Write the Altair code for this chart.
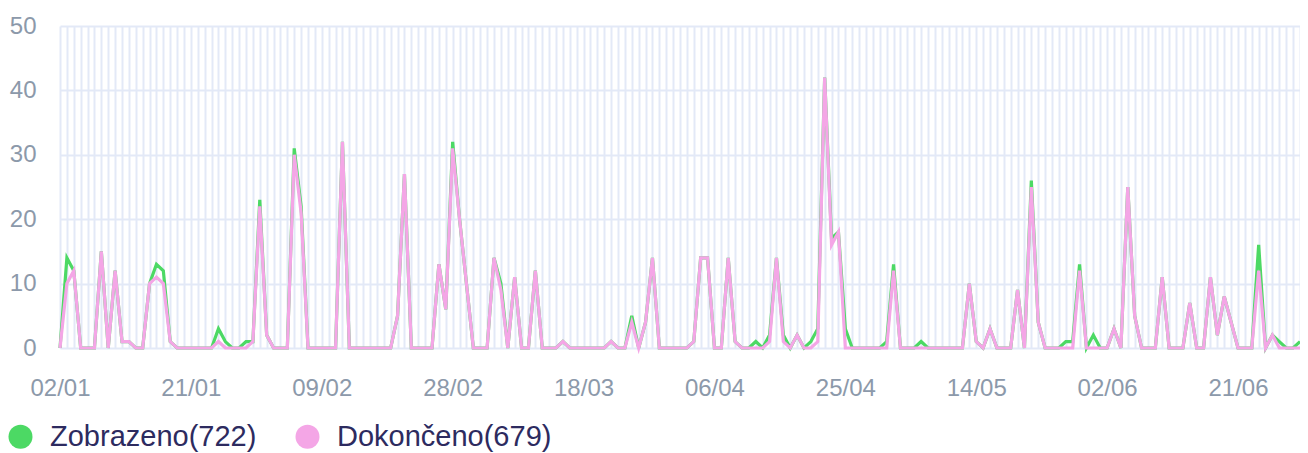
import json
import altair as alt
import pandas as pd

# ---- data -------------------------------------------------------------
DATES = pd.date_range("2024-01-02", "2024-06-30", freq="D").strftime("%Y-%m-%d").tolist()

ZOBRAZENO = [
    0, 14, 12, 0, 0, 0, 15, 0, 12, 1,
    1, 0, 0, 10, 13, 12, 1, 0, 0, 0,
    0, 0, 0, 3, 1, 0, 0, 1, 1, 23,
    2, 0, 0, 0, 31, 22, 0, 0, 0, 0,
    0, 32, 0, 0, 0, 0, 0, 0, 0, 5,
    27, 0, 0, 0, 0, 13, 6, 32, 20, 10,
    0, 0, 0, 14, 10, 0, 11, 0, 0, 12,
    0, 0, 0, 1, 0, 0, 0, 0, 0, 0,
    1, 0, 0, 5, 0, 4, 14, 0, 0, 0,
    0, 0, 1, 14, 14, 0, 0, 14, 1, 0,
    0, 1, 0, 2, 14, 2, 0, 2, 0, 1,
    3, 42, 17, 18, 3, 0, 0, 0, 0, 0,
    1, 13, 0, 0, 0, 1, 0, 0, 0, 0,
    0, 0, 10, 1, 0, 3, 0, 0, 0, 9,
    0, 26, 4, 0, 0, 0, 1, 1, 13, 0,
    2, 0, 0, 3, 0, 25, 5, 0, 0, 0,
    11, 0, 0, 0, 7, 0, 0, 11, 2, 8,
    4, 0, 0, 0, 16, 0, 2, 1, 0, 0,
    1,
]

DOKONCENO = [
    0, 10, 12, 0, 0, 0, 15, 0, 12, 1,
    1, 0, 0, 10, 11, 10, 1, 0, 0, 0,
    0, 0, 0, 1, 0, 0, 0, 0, 1, 22,
    2, 0, 0, 0, 30, 21, 0, 0, 0, 0,
    0, 32, 0, 0, 0, 0, 0, 0, 0, 5,
    27, 0, 0, 0, 0, 13, 6, 31, 20, 10,
    0, 0, 0, 14, 9, 0, 11, 0, 0, 12,
    0, 0, 0, 1, 0, 0, 0, 0, 0, 0,
    1, 0, 0, 4, 0, 4, 14, 0, 0, 0,
    0, 0, 1, 14, 14, 0, 0, 14, 1, 0,
    0, 0, 0, 1, 14, 1, 0, 2, 0, 0,
    1, 42, 16, 18, 0, 0, 0, 0, 0, 0,
    0, 12, 0, 0, 0, 0, 0, 0, 0, 0,
    0, 0, 10, 1, 0, 3, 0, 0, 0, 9,
    0, 25, 4, 0, 0, 0, 0, 0, 12, 0,
    0, 0, 0, 3, 0, 25, 5, 0, 0, 0,
    11, 0, 0, 0, 7, 0, 0, 11, 2, 8,
    4, 0, 0, 0, 12, 0, 2, 0, 0, 0,
    0,
]

SERIES = ["Zobrazeno(722)", "Dokončeno(679)"]
COLORS = ["#4cd964", "#f4a6e6"]
TICK_LABELS = ["02/01", "21/01", "09/02", "28/02", "18/03",
               "06/04", "25/04", "14/05", "02/06", "21/06"]
Y_TICKS = [0, 10, 20, 30, 40, 50]

n = len(DATES)
df = pd.DataFrame({
    "den": list(range(n)) * 2,
    "datum": DATES * 2,
    "hodnota": ZOBRAZENO + DOKONCENO,
    "serie": [SERIES[0]] * n + [SERIES[1]] * n,
})

# ---- styling ----------------------------------------------------------
GRID = "#e3e9f7"
LABEL = "#8c99aa"
FONT = "Liberation Sans"

label_expr = (
    "datum.value % 19 === 0 ? " + json.dumps(TICK_LABELS) + "[datum.value / 19] : ''"
)

x_enc = alt.X(
    "den:Q",
    scale=alt.Scale(domain=[0, n - 1], nice=False, zero=False),
    axis=alt.Axis(
        title=None, values=list(range(n)), labelExpr=label_expr,
        grid=True, gridColor=GRID, gridWidth=2, domain=False, ticks=False,
        labelFontSize=24, labelColor=LABEL, labelFont=FONT, labelPadding=28,
        labelOverlap=False, labelFlush=False, labelBound=False,
    ),
)
y_enc = alt.Y(
    "hodnota:Q",
    scale=alt.Scale(domain=[0, 50], nice=False),
    axis=alt.Axis(
        title=None, values=Y_TICKS, grid=True, gridColor=GRID, gridWidth=2,
        domain=False, ticks=False, labelFontSize=24, labelColor=LABEL,
        labelFont=FONT, labelPadding=24,
    ),
)
legend_fill = alt.Fill(
    "serie:N",
    scale=alt.Scale(domain=SERIES, range=COLORS),
    legend=alt.Legend(
        title=None, orient="none", legendX=-54, legendY=396,
        direction="horizontal", symbolType="circle", symbolSize=576,
        symbolOpacity=1, symbolStrokeWidth=0,
        labelFontSize=29, labelColor="#2d2b5f", labelFont=FONT,
        labelOffset=15, columnPadding=36, labelLimit=400,
    ),
)

base = alt.Chart(df)
green = base.transform_filter(alt.datum.serie == SERIES[0]).mark_line(
    strokeWidth=3.2, color=COLORS[0]).encode(x=x_enc, y=y_enc)
pink = base.transform_filter(alt.datum.serie == SERIES[1]).mark_line(
    strokeWidth=3.2, color=COLORS[1]).encode(x=x_enc, y=y_enc)
# invisible points: only provide the filled-circle legend
legend_layer = base.mark_point(filled=True, shape="circle", opacity=0).encode(
    x=x_enc, y=y_enc, fill=legend_fill)

chart = alt.layer(green, pink, legend_layer).properties(
    width=1240, height=322,
    autosize=alt.AutoSizeParams(type="none"),
    padding={"left": 52, "top": 18, "right": 0, "bottom": 105},
).configure_view(stroke=None)

chart.save("out.html", embed_options={"renderer": "svg", "actions": False})
